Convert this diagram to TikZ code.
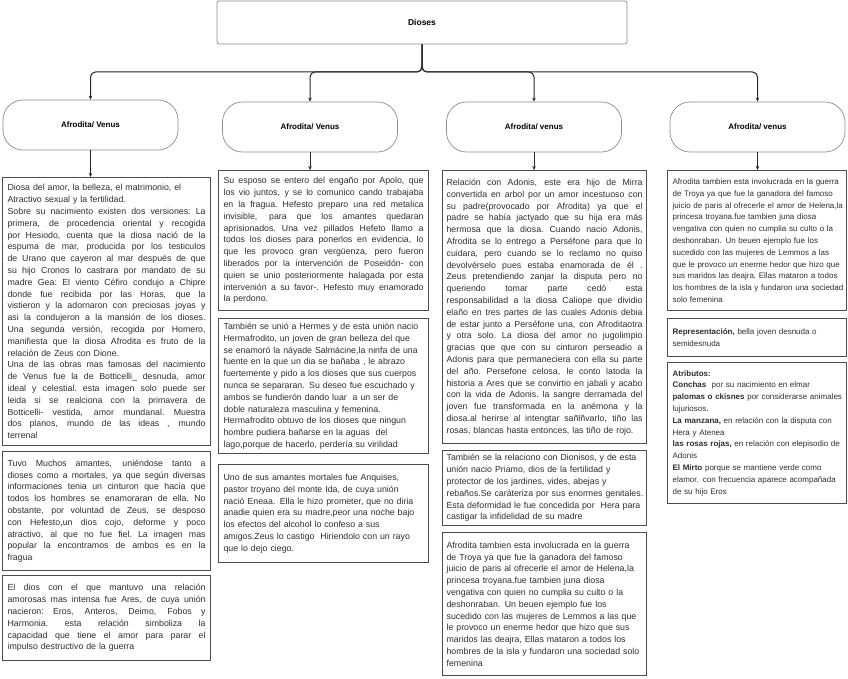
\documentclass[tikz,border=0pt]{standalone}
\usepackage{fontspec}
\setmainfont{Liberation Sans}
\usetikzlibrary{arrows.meta}
\newdimen\boxtw

\begin{document}
\begin{tikzpicture}[
    x=1pt, y=-1pt,
    titlebox/.style = {draw=black!45, line width=0.7pt, rounded corners=2pt, minimum width=410pt, minimum height=43pt, font=\fontsize{8.5}{10}\selectfont\bfseries},
    pill/.style = {draw=black!45, line width=0.7pt, rounded corners=20pt, minimum width=175pt, minimum height=50pt, font=\fontsize{8}{10}\selectfont\bfseries},
    infobox/.style = {draw=black!70, line width=1.2pt, anchor=north west, inner xsep=5pt, inner ysep=3pt, text=black!82, font=\fontsize{8.8}{11.8}\selectfont},
    colw/.style = {text width=#1, execute at begin node={\boxtw=#1\relax}},
    small text/.style = {font=\fontsize{8}{11.8}\selectfont},
    link/.style = {draw=black!85, line width=1pt, -{Stealth[length=4pt,width=3.5pt]}}
]

\useasboundingbox (0,0) rectangle (848,679);

% Linea justificada y linea libre
\def\jl#1{\hbox to\boxtw{\spaceskip=0.28em plus 2em minus 0.04em\xspaceskip=\spaceskip #1}\par}
\def\rl#1{\hbox to\boxtw{#1\hss}\par}

% --- TITULO ---
\node[titlebox] (dioses) at (422,22.5) {Dioses};
\coordinate (hub) at (422,72);

% --- CABECERAS ---
\node[pill] (p1) at (90.5,125) {Afrodita/ Venus};
\node[pill] (p2) at (310,127) {Afrodita/ Venus};
\node[pill] (p3) at (534,127) {Afrodita/ venus};
\node[pill] (p4) at (757.5,127) {Afrodita/ venus};

\foreach \p in {p1,p2,p3,p4}
    \draw[link, rounded corners=5pt] (dioses.south) -- (hub) -| (\p.north);

% --- COLUMNA 1 ---
\node[infobox, colw=198pt, minimum height=268pt] (c1a) at (2,177) {
\rl{Diosa del amor, la belleza, el matrimonio, el}
\rl{Atractivo sexual y la fertilidad.}
\jl{Sobre su nacimiento existen dos versiones: La}
\jl{primera, de procedencia oriental y recogida}
\jl{por Hesiodo, cuenta que la diosa nació de la}
\jl{espuma de mar, producida por los testiculos}
\jl{de Urano que cayeron al mar después de que}
\jl{su hijo Cronos lo castrara por mandato de su}
\jl{madre Gea: El viento Céfiro condujo a Chipre}
\jl{donde fue recibida por las Horas, que la}
\jl{vistieron y la adornaron con preciosas joyas y}
\jl{asi la condujeron a la mansión de los dioses.}
\jl{Una segunda versión, recogida por Homero,}
\jl{manifiesta que la diosa Afrodita es fruto de la}
\rl{relación de Zeus con Dione.}
\jl{Una de las obras mas famosas del nacimiento}
\jl{de Venus fue la de Botticelli\_ desnuda, amor}
\jl{ideal y celestial. esta imagen solo puede ser}
\jl{leida si se realciona con la primavera de}
\jl{Botticelli- vestida, amor mundanal. Muestra}
\jl{dos planos, mundo de las ideas , mundo}
\rl{terrenal}
};

\node[infobox, colw=198pt, minimum height=119pt] (c1b) at (2,451) {
\jl{Tuvo Muchos amantes, uniéndose tanto a}
\jl{dioses como a mortales, ya que según diversas}
\jl{informaciones tenia un cinturon que hacia que}
\jl{todos los hombres se enamoraran de ella. No}
\jl{obstante, por voluntad de Zeus, se desposo}
\jl{con Hefesto,un dios cojo, deforme y poco}
\jl{atractivo, al que no fue fiel. La imagen mas}
\jl{popular la encontramos de ambos es en la}
\rl{fragua}
};

\node[infobox, colw=198pt, minimum height=85pt] (c1c) at (2,575) {
\jl{El dios con el que mantuvo una relación}
\jl{amorosas mas intensa fue Ares, de cuya unión}
\jl{nacieron: Eros, Anteros, Deimo, Fobos y}
\jl{Harmonia. esta relación simboliza la}
\jl{capacidad que tiene el amor para parar el}
\rl{impulso destructivo de la guerra}
};

% --- COLUMNA 2 ---
\node[infobox, colw=200pt, minimum height=140pt] (c2a) at (218,170) {
\jl{Su esposo se entero del engaño por Apolo, que}
\jl{los vio juntos, y se lo comunico cando trabajaba}
\jl{en la fragua. Hefesto preparo una red metalica}
\jl{invisible, para que los amantes quedaran}
\jl{aprisionados. Una vez pillados Hefeto llamo a}
\jl{todos los dioses para ponerlos en evidencia, lo}
\jl{que les provoco gran vergüenza, pero fueron}
\jl{liberados por la intervención de Poseidón- con}
\jl{quien se unio posteriormente halagada por esta}
\jl{intervenión a su favor-. Hefesto muy enamorado}
\rl{la perdono.}
};

\node[infobox, colw=200pt, minimum height=135pt] (c2b) at (218,318) {
\rl{También se unió a Hermes y de esta unión nacio}
\rl{Hermafrodito, un joven de gran belleza del que}
\rl{se enamoró la náyade Salmácine,la ninfa de una}
\rl{fuente en la que un dia se bañaba , le abrazo}
\rl{fuertemente y pido a los dioses que sus cuerpos}
\rl{nunca se separaran. Su deseo fue escuchado y}
\rl{ambos se fundierón dando luar\ \ a un ser de}
\rl{doble naturaleza masculina y femenina.}
\rl{Hermafrodito obtuvo de los dioses que ningun}
\rl{hombre pudiera bañarse en la aguas\ \ del}
\rl{lago,porque de hacerlo, perdería su virilidad}
};

\node[infobox, colw=200pt, minimum height=98pt] (c2c) at (218,464) {
\rl{Uno de sus amantes mortales fue Anquises,}
\rl{pastor troyano del monte Ida, de cuya unión}
\rl{nació Eneaa. Ella le hizo prometer, que no diria}
\rl{anadie quien era su madre,peor una noche bajo}
\rl{los efectos del alcohol lo confeso a sus}
\rl{amigos.Zeus lo castigo\ \ Hiriendolo con un rayo}
\rl{que lo dejo ciego.}
};

% --- COLUMNA 3 ---
\node[infobox, inner xsep=4pt, colw=196pt, minimum height=273pt] (c3a) at (442,170) {
\jl{Relación con Adonis, este era hijo de Mirra}
\jl{convertida en arbol por un amor incestuoso con}
\jl{su padre(provocado por Afrodita) ya que el}
\jl{padre se había jactyado que su hija era más}
\jl{hermosa que la diosa. Cuando nacio Adonis,}
\jl{Afrodita se lo entrego a Perséfone para que lo}
\jl{cuidara, pero cuando se lo reclamo no quiso}
\jl{devolvérselo pues estaba enamorada de él .}
\jl{Zeus pretendiendo zanjar la disputa pero no}
\jl{queriendo tomar parte cedó esta}
\jl{responsabilidad a la diosa Caliope que dividio}
\jl{elaño en tres partes de las cuales Adonis debia}
\jl{de estar junto a Perséfone una, con Afroditaotra}
\jl{y otra solo. La diosa del amor no jugolimpio}
\jl{gracias que que con su cinturon perseadio a}
\jl{Adonis para que permaneciera con ella su parte}
\jl{del año. Persefone celosa, le conto latoda la}
\jl{historia a Ares que se convirtio en jabali y acabo}
\jl{con la vida de Adonis. la sangre derramada del}
\jl{joven fue transformada en la anémona y la}
\jl{diosa.al herirse al intengtar sañlñvarlo, tiño las}
\rl{rosas, blancas hasta entonces, las tiño de rojo.}
};

\node[infobox, inner xsep=4pt, colw=196pt, minimum height=75pt] (c3b) at (442,450) {
\rl{También se la relaciono con Dionisos, y de esta}
\rl{unión nacio Priamo, dios de la fertilidad y}
\rl{protector de los jardines, vides, abejas y}
\rl{rebaños.Se caráteriza por sus enormes genitales.}
\rl{Esta deformidad le fue concedida por\ \ Hera para}
\rl{castigar la infidelidad de su madre}
};

\node[infobox, inner xsep=4pt, colw=196pt, minimum height=143pt] (c3c) at (442,532) {
\rl{Afrodita tambien esta involucrada en la guerra}
\rl{de Troya ya que fue la ganadora del famoso}
\rl{juicio de paris al ofrecerle el amor de Helena,la}
\rl{princesa troyana.fue tambien juna diosa}
\rl{vengativa con quien no cumplia su culto o la}
\rl{deshonraban. Un beuen ejemplo fue los}
\rl{sucedido con las mujeres de Lemmos a las que}
\rl{le provoco un enerme hedor que hizo que sus}
\rl{maridos las deajra, Ellas mataron a todos los}
\rl{hombres de la isla y fundaron una sociedad solo}
\rl{femenina}
};

% --- COLUMNA 4 ---
\node[infobox, small text, colw=169pt, minimum height=140pt] (c4a) at (667,170) {
\rl{Afrodita tambien esta involucrada en la guerra}
\rl{de Troya ya que fue la ganadora del famoso}
\rl{juicio de paris al ofrecerle el amor de Helena,la}
\rl{princesa troyana.fue tambien juna diosa}
\rl{vengativa con quien no cumplia su culto o la}
\rl{deshonraban. Un beuen ejemplo fue los}
\rl{sucedido con las mujeres de Lemmos a las}
\rl{que le provoco un enerme hedor que hizo que}
\rl{sus maridos las deajra, Ellas mataron a todos}
\rl{los hombres de la isla y fundaron una sociedad}
\rl{solo femenina}
};

\node[infobox, small text, colw=169pt, minimum height=38pt] (c4b) at (667,318) {
\rl{\textbf{Representación,} bella joven desnuda o}
\rl{semidesnuda}
};

\node[infobox, small text, colw=169pt, minimum height=141pt] (c4c) at (667,362) {
\rl{\textbf{Atributos:}}
\rl{\textbf{Conchas}\ \ por su nacimiento en elmar}
\rl{\textbf{palomas o ckisnes} por considerarse animales}
\rl{lujuriosos.}
\rl{\textbf{La manzana,} en relación con la disputa con}
\rl{Hera y Atenea}
\rl{\textbf{las rosas rojas,} en relación con elepisodio de}
\rl{Adonis}
\rl{\textbf{El Mirto} porque se mantiene verde como}
\rl{elamor. con frecuencia aparece acompañada}
\rl{de su hijo Eros}
};

% --- FLECHAS A LAS CAJAS ---
\draw[link] (p1.south) -- (p1.south |- c1a.north);
\draw[link] (p2.south) -- (p2.south |- c2a.north);
\draw[link] (p3.south) -- (p3.south |- c3a.north);
\draw[link] (p4.south) -- (p4.south |- c4a.north);

\end{tikzpicture}
\end{document}
